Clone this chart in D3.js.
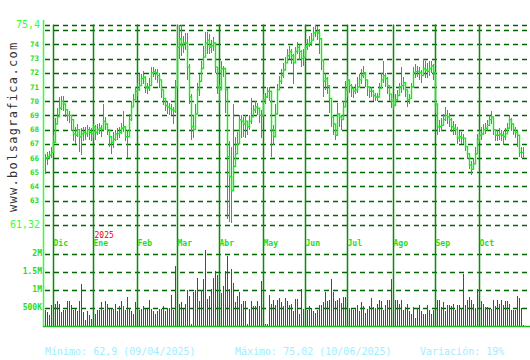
<!DOCTYPE html>
<html>
<head>
<meta charset="utf-8">
<script src="https://cdn.jsdelivr.net/npm/d3@7"></script>
<style>
  html, body { margin: 0; padding: 0; background: #fff; }
  svg { display: block; font-family: "DejaVu Sans Mono", monospace; }
</style>
</head>
<body>
<div id="chart"></div>
<script>
// daily closes, Nov 2024 -> Oct 2025
const closes = [
  66.0, 66.1, 66.2, 66.4, 67.1, 68.4, 68.9, 69.5, 70.0, 69.8,
  69.4, 69.0, 69.0, 68.7, 67.7, 67.6, 68.0, 67.5, 67.7, 67.8,
  67.7, 68.0, 67.8, 67.7, 68.2, 67.8, 68.0, 68.1, 68.0, 68.6,
  68.4, 68.0, 67.5, 67.1, 67.3, 67.7, 67.7, 67.8, 68.1, 68.2,
  67.5, 67.5, 68.7, 69.6, 70.1, 70.7, 70.8, 71.1, 71.6, 71.7,
  71.0, 70.9, 71.1, 72.0, 72.1, 72.0, 71.8, 71.5, 70.8, 70.2,
  69.7, 69.6, 69.5, 69.4, 69.3, 71.0, 73.8, 74.4, 73.9, 74.1,
  74.1, 72.4, 70.3, 68.2, 68.0, 69.1, 70.8, 71.4, 72.3, 73.1,
  74.1, 74.3, 73.8, 73.9, 74.1, 72.4, 71.0, 70.8, 72.3, 72.3,
  70.8, 66.1, 64.7, 63.7, 65.4, 66.3, 67.0, 68.7, 68.6, 68.4,
  68.6, 68.2, 68.6, 68.9, 69.4, 69.6, 69.5, 69.0, 69.0, 70.1,
  70.3, 70.7, 70.7, 68.0, 67.5, 69.1, 70.8, 71.4, 71.8, 72.2,
  72.7, 73.2, 73.5, 73.2, 72.7, 73.5, 73.8, 73.5, 73.0, 73.1,
  73.8, 74.0, 74.1, 74.3, 74.8, 74.9, 74.8, 74.4, 72.9, 71.4,
  71.6, 71.1, 70.2, 68.9, 68.4, 67.6, 69.1, 68.9, 68.7, 69.6,
  70.8, 71.5, 71.1, 70.9, 70.7, 70.8, 71.0, 71.5, 71.8, 72.0,
  71.5, 71.0, 70.7, 70.7, 70.4, 70.3, 70.3, 70.9, 71.5, 71.8,
  71.6, 71.1, 70.5, 70.0, 69.7, 70.1, 70.4, 71.0, 71.1, 71.3,
  70.8, 70.1, 70.2, 71.0, 72.0, 72.1, 72.1, 72.0, 71.8, 72.3,
  72.2, 72.1, 72.3, 72.5, 72.0, 69.8, 68.2, 68.2, 68.3, 68.7,
  69.0, 68.9, 68.7, 68.2, 68.1, 68.0, 67.4, 67.5, 67.4, 67.4,
  66.8, 66.3, 65.5, 65.2, 65.6, 66.3, 67.3, 67.6, 67.7, 68.0,
  68.1, 68.3, 68.7, 68.9, 68.0, 67.6, 67.6, 67.7, 67.6, 67.5,
  67.7, 68.1, 68.7, 68.4, 68.0, 67.8, 67.6, 66.4, 66.4, 66.4
];

const highs = [
  66.3, 66.4, 66.5, 66.8, 67.6, 68.8, 69.5, 70.3, 70.4, 70.4,
  69.8, 69.4, 69.3, 69.0, 68.5, 68.2, 68.4, 68.0, 68.1, 68.2,
  68.2, 68.3, 68.2, 68.1, 68.4, 68.3, 68.4, 68.5, 68.3, 69.8,
  68.9, 68.4, 68.0, 67.5, 67.8, 68.0, 68.1, 68.2, 68.5, 69.3,
  68.1, 68.0, 69.1, 70.0, 70.5, 71.0, 71.3, 71.9, 71.9, 72.1,
  71.4, 71.3, 71.6, 72.4, 72.4, 72.3, 72.3, 72.0, 71.5, 70.6,
  70.1, 70.0, 69.9, 69.8, 69.6, 71.5, 75.3, 75.4, 75.4, 74.6,
  74.8, 74.8, 72.6, 70.5, 69.0, 69.8, 71.3, 71.9, 72.8, 73.9,
  74.9, 74.9, 74.7, 74.3, 74.5, 73.8, 72.0, 71.2, 72.8, 72.5,
  71.3, 70.9, 67.2, 66.8, 69.8, 67.5, 67.8, 69.0, 69.0, 68.9,
  69.0, 68.6, 69.0, 70.2, 69.7, 70.0, 69.9, 69.5, 69.4, 70.5,
  70.6, 71.0, 71.0, 70.5, 68.3, 69.8, 71.2, 71.8, 72.3, 72.7,
  73.1, 73.7, 73.9, 73.7, 73.3, 73.8, 74.2, 74.0, 73.6, 73.7,
  74.1, 74.4, 74.6, 74.8, 75.2, 75.4, 75.3, 75.1, 73.6, 71.9,
  72.0, 71.7, 70.5, 69.5, 68.9, 68.2, 69.9, 69.2, 69.0, 70.0,
  71.4, 71.8, 71.4, 71.2, 71.0, 71.2, 71.7, 71.9, 72.3, 72.5,
  71.9, 71.5, 71.0, 71.0, 70.8, 70.6, 70.6, 71.3, 72.0, 72.8,
  72.0, 71.7, 71.1, 70.4, 70.2, 70.5, 70.8, 71.3, 72.4, 71.7,
  71.3, 70.6, 70.5, 71.3, 72.4, 72.6, 72.5, 72.4, 72.2, 73.0,
  72.8, 72.7, 72.8, 72.8, 72.6, 72.0, 68.8, 68.7, 68.8, 69.1,
  69.6, 69.4, 69.2, 68.8, 68.6, 68.4, 68.2, 67.9, 67.8, 67.7,
  67.3, 66.8, 66.2, 65.8, 66.0, 66.8, 67.7, 68.0, 68.2, 68.4,
  68.5, 68.7, 69.0, 69.3, 68.4, 68.0, 68.0, 68.1, 68.0, 67.9,
  68.1, 68.5, 69.0, 68.8, 68.4, 68.2, 68.0, 67.3, 66.8, 66.8
];

const lows = [
  64.9, 65.5, 65.9, 66.0, 66.4, 67.2, 68.4, 68.9, 69.4, 69.3,
  68.9, 68.6, 68.5, 67.9, 67.2, 67.0, 67.5, 66.4, 66.2, 67.2,
  67.3, 67.5, 67.3, 67.2, 67.4, 67.3, 67.6, 67.7, 67.5, 68.1,
  68.0, 67.6, 66.8, 66.3, 66.7, 67.2, 67.3, 67.4, 67.7, 67.8,
  67.2, 66.0, 67.5, 68.6, 69.6, 70.2, 70.4, 70.7, 71.1, 71.2,
  70.6, 70.5, 70.7, 71.4, 71.7, 71.5, 71.3, 70.9, 70.2, 69.7,
  69.3, 69.1, 69.0, 69.0, 68.4, 69.2, 71.2, 73.0, 73.2, 73.4,
  73.6, 71.5, 69.8, 67.3, 67.4, 68.0, 69.7, 70.4, 71.6, 72.5,
  73.2, 73.3, 73.3, 73.4, 73.5, 72.0, 70.5, 69.9, 71.5, 71.7,
  69.2, 61.7, 61.5, 61.4, 63.8, 65.9, 66.5, 67.8, 67.4, 67.5,
  67.4, 67.6, 68.0, 68.4, 68.9, 69.2, 69.0, 68.5, 67.4, 69.5,
  69.8, 70.2, 70.0, 66.1, 66.9, 68.6, 70.1, 70.8, 71.2, 71.6,
  72.2, 72.8, 73.0, 72.6, 71.2, 73.0, 73.3, 72.9, 72.4, 72.5,
  73.2, 73.6, 73.8, 73.9, 74.3, 74.5, 74.3, 73.3, 72.2, 70.3,
  70.8, 70.5, 69.2, 68.2, 67.6, 67.3, 68.4, 68.2, 68.0, 69.0,
  70.1, 70.3, 70.6, 70.3, 70.2, 70.5, 70.6, 71.1, 71.2, 71.6,
  71.0, 70.4, 70.2, 70.3, 70.0, 70.0, 70.0, 70.4, 71.0, 71.3,
  71.0, 70.5, 70.0, 69.5, 69.4, 69.8, 70.0, 70.5, 70.6, 70.8,
  70.3, 69.6, 69.8, 70.5, 71.4, 71.6, 71.7, 71.5, 71.3, 71.8,
  71.6, 71.6, 71.8, 72.0, 71.5, 69.2, 67.6, 67.8, 67.9, 68.3,
  68.6, 68.4, 68.2, 67.8, 67.6, 67.6, 67.0, 67.1, 67.0, 67.0,
  66.5, 65.9, 65.2, 64.8, 65.2, 65.9, 66.8, 67.1, 67.3, 67.6,
  67.7, 67.9, 68.3, 68.4, 67.6, 67.2, 67.2, 67.3, 67.2, 66.9,
  67.3, 67.7, 68.3, 67.9, 67.6, 67.4, 66.8, 66.1, 66.0, 66.0
];

// volume in millions of shares
const volumes = [
  0.44, 0.37, 0.28, 0.56, 0.58, 0.61, 0.69, 0.61, 0.37, 0.44,
  0.44, 0.67, 0.67, 0.56, 0.42, 0.47, 0.40, 0.69, 1.14, 0.37,
  0.14, 0.39, 0.30, 0.17, 0.42, 0.33, 0.42, 0.42, 0.64, 0.42,
  0.69, 0.61, 0.47, 0.47, 0.47, 0.61, 0.39, 0.53, 0.67, 0.53,
  0.44, 0.78, 0.50, 0.39, 0.31, 0.64, 0.58, 0.44, 0.47, 0.53,
  0.50, 0.47, 0.72, 0.47, 0.39, 0.33, 0.39, 0.47, 0.47, 0.53,
  0.39, 0.50, 0.48, 0.86, 0.44, 1.65, 0.90, 0.61, 0.65, 0.46,
  0.61, 1.00, 0.81, 0.03, 0.93, 1.00, 1.32, 0.67, 1.00, 1.28,
  2.11, 0.74, 0.83, 1.02, 1.32, 1.52, 1.39, 0.77, 0.91, 1.09,
  1.52, 1.94, 1.02, 1.56, 1.19, 0.65, 0.81, 0.93, 0.61, 0.67,
  0.67, 0.03, 0.46, 0.67, 0.54, 0.54, 0.67, 0.54, 1.23, 0.61,
  0.03, 0.03, 0.86, 0.61, 0.70, 0.56, 0.70, 0.77, 0.65, 0.54,
  0.77, 0.68, 0.58, 0.61, 0.40, 0.74, 0.74, 0.33, 1.02, 0.45,
  0.48, 0.44, 0.54, 0.48, 0.39, 0.35, 0.43, 0.58, 0.56, 0.65,
  0.93, 0.68, 0.70, 1.30, 0.94, 0.68, 0.70, 0.76, 0.63, 0.78,
  0.78, 0.65, 0.50, 0.46, 0.44, 0.46, 0.57, 0.39, 0.65, 0.54,
  0.35, 0.46, 0.54, 0.76, 0.52, 0.50, 0.61, 0.70, 0.68, 0.43,
  0.56, 0.72, 0.72, 1.28, 0.55, 0.70, 0.70, 0.61, 0.72, 0.42,
  0.52, 0.61, 0.39, 0.33, 0.52, 0.22, 0.50, 0.58, 0.39, 0.33,
  0.33, 0.57, 0.43, 0.31, 0.43, 0.50, 0.72, 0.70, 0.52, 0.65,
  0.39, 0.56, 0.56, 0.54, 0.61, 0.43, 0.57, 0.56, 0.50, 1.43,
  0.56, 0.72, 0.78, 0.70, 0.61, 0.50, 1.02, 0.80, 0.67, 0.61,
  0.52, 0.52, 0.50, 0.46, 0.72, 0.54, 0.72, 0.61, 0.70, 0.56,
  0.67, 0.67, 0.61, 0.43, 0.44, 0.44, 0.81, 0.76, 0.50, 0.02
];

const monthLabels = ["Dic", "Ene", "Feb", "Mar", "Abr", "May", "Jun", "Jul", "Ago", "Sep", "Oct"];
const monthStart = [4, 24, 46, 66, 87, 109, 130, 151, 174, 195, 217];
const yearLabel = "2025";
const yearIndex = 24;

const priceMin = 61.32;
const priceMax = 75.4;
const priceTicks = [74, 73, 72, 71, 70, 69, 68, 67, 66, 65, 64, 63];
const priceGrid = [75, 74, 73, 72, 71, 70, 69, 68, 67, 66, 65, 64, 63, 62];

const volTicks = [0.5, 1, 1.5, 2];
const volTickLabels = ["500K", "1M", "1.5M", "2M"];

const footer = [
  { x: 45, text: "Mínimo: 62,9 (09/04/2025)" },
  { x: 235, text: "Máximo: 75,02 (10/06/2025)" },
  { x: 420, text: "Variación: 19%" }
];

const GRID = "#006600";
const MONTH_LINE = "#0b8a0b";
const AXIS = "#33ff33";
const LABEL = "#22dd22";

renderChart();

function renderChart() {
  const W = 530, H = 360;
  const left = 45, right = 528;

  const svg = d3.select("#chart")
    .append("svg")
    .attr("width", W)
    .attr("height", H);

  const x = d3.scaleLinear()
    .domain([0, closes.length - 1])
    .range([45, 523]);

  const yP = d3.scaleLinear()
    .domain([priceMin, priceMax])
    .range([224.5, 24.5]);

  const yV = d3.scaleLinear()
    .domain([0, 2])
    .range([325.5, 253.5]);

  const px = i => Math.round(x(i)) + 0.5;

  // price grid (dashed)
  svg.append("g")
    .selectAll("line")
    .data([priceMax, ...priceGrid, priceMin])
    .enter()
    .append("line")
    .attr("x1", left)
    .attr("x2", right)
    .attr("y1", d => Math.round(yP(d)) + 0.5)
    .attr("y2", d => Math.round(yP(d)) + 0.5)
    .attr("stroke", GRID)
    .attr("stroke-width", 1.4)
    .attr("stroke-dasharray", "5,4");

  // volume grid
  svg.append("g")
    .selectAll("line")
    .data(volTicks)
    .enter()
    .append("line")
    .attr("x1", left)
    .attr("x2", right)
    .attr("y1", d => Math.round(yV(d)) + 0.5)
    .attr("y2", d => Math.round(yV(d)) + 0.5)
    .attr("stroke", GRID)
    .attr("stroke-width", 1.4)
    .attr("stroke-dasharray", "5,4");

  // month separators
  svg.append("g")
    .selectAll("line")
    .data(monthStart)
    .enter()
    .append("line")
    .attr("x1", d => px(d))
    .attr("x2", d => px(d))
    .attr("y1", yP(priceMax))
    .attr("y2", 326)
    .attr("stroke", MONTH_LINE)
    .attr("stroke-width", 1.5);

  svg.append("g")
    .selectAll("text")
    .data(monthLabels)
    .enter()
    .append("text")
    .attr("x", (d, i) => px(monthStart[i]))
    .attr("y", 246)
    .attr("fill", LABEL)
    .attr("font-size", "8px")
    .attr("font-weight", "bold")
    .text(d => d);

  svg.append("text")
    .attr("x", px(yearIndex) + 1)
    .attr("y", 238)
    .attr("fill", "#ee0000")
    .attr("font-size", "8px")
    .text(yearLabel);

  // volume bars
  svg.append("g")
    .attr("shape-rendering", "crispEdges")
    .selectAll("rect")
    .data(volumes)
    .enter()
    .append("rect")
    .attr("x", (d, i) => Math.round(x(i)))
    .attr("width", 1)
    .attr("y", d => Math.round(yV(d)))
    .attr("height", d => Math.round(yV(0)) - Math.round(yV(d)))
    .attr("fill", "#ff0000");

  // high-low bars
  svg.append("g")
    .attr("shape-rendering", "crispEdges")
    .selectAll("line")
    .data(closes)
    .enter()
    .append("line")
    .attr("x1", (d, i) => px(i))
    .attr("x2", (d, i) => px(i))
    .attr("y1", (d, i) => yP(highs[i]))
    .attr("y2", (d, i) => yP(lows[i]))
    .attr("stroke", "#1a9cb4")
    .attr("stroke-width", 1);

  // close line, stepped like the original
  const line = d3.line()
    .x((d, i) => px(i))
    .y(d => yP(d))
    .curve(d3.curveStepAfter);

  svg.append("path")
    .datum(closes)
    .attr("d", line)
    .attr("fill", "none")
    .attr("stroke", "#11ee11")
    .attr("stroke-width", 1.4);

  // axes lines
  svg.append("line")
    .attr("x1", 43.5).attr("x2", 43.5)
    .attr("y1", 20).attr("y2", 327)
    .attr("stroke", AXIS)
    .attr("stroke-width", 1.5);

  svg.append("line")
    .attr("x1", 43).attr("x2", 530)
    .attr("y1", 326.5).attr("y2", 326.5)
    .attr("stroke", "#22bb22")
    .attr("stroke-width", 1.5);

  // price tick labels
  svg.append("g")
    .selectAll("text")
    .data(priceTicks)
    .enter()
    .append("text")
    .attr("x", 39)
    .attr("y", d => yP(d))
    .attr("dy", "0.35em")
    .attr("text-anchor", "end")
    .attr("fill", LABEL)
    .attr("font-size", "7.5px")
    .attr("font-weight", "bold")
    .text(d => d);

  svg.append("g")
    .selectAll("text")
    .data([priceMax, priceMin])
    .enter()
    .append("text")
    .attr("x", 40)
    .attr("y", d => yP(d))
    .attr("dy", "0.38em")
    .attr("text-anchor", "end")
    .attr("fill", AXIS)
    .attr("font-size", "10px")
    .text(d => String(d).replace(".", ","));

  // volume tick labels
  svg.append("g")
    .selectAll("text")
    .data(volTicks)
    .enter()
    .append("text")
    .attr("x", 42)
    .attr("y", d => yV(d))
    .attr("dy", "0.35em")
    .attr("text-anchor", "end")
    .attr("fill", LABEL)
    .attr("font-size", "8px")
    .attr("font-weight", "bold")
    .text((d, i) => volTickLabels[i]);

  // site name, vertical
  svg.append("text")
    .attr("transform", "translate(17,212) rotate(-90)")
    .attr("fill", "#333")
    .attr("font-size", "12px")
    .attr("letter-spacing", "1.3px")
    .text("www.bolsagrafica.com");

  // footer stats
  svg.append("g")
    .selectAll("text")
    .data(footer)
    .enter()
    .append("text")
    .attr("x", d => d.x)
    .attr("y", 355)
    .attr("fill", "#a0eeff")
    .attr("font-size", "10px")
    .text(d => d.text);
}
</script>
</body>
</html>
